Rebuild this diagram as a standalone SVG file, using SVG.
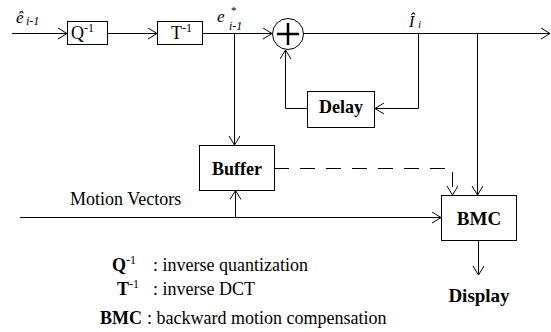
<svg xmlns="http://www.w3.org/2000/svg" width="551" height="332" viewBox="0 0 551 332">
<style>
.box{fill:#fff;stroke:#000;stroke-width:1}
.ln{fill:none;stroke:#000;stroke-width:1}
.dash{fill:none;stroke:#000;stroke-width:1;stroke-dasharray:15 11}
text{font-family:"Liberation Serif","Times New Roman",serif;fill:#000}
.b{font-weight:bold;font-size:18px}
.it{font-style:italic}
.reg{font-size:18px}
</style>
<defs>
<marker id="ah" markerUnits="userSpaceOnUse" markerWidth="12" markerHeight="12" refX="9" refY="5.5" orient="auto">
<path d="M0,0 L9,5.5 L0,11" fill="none" stroke="#000" stroke-width="1"/>
</marker>
</defs>
<rect width="551" height="332" fill="#fff"/>
<g id="connectors">
<path class="ln" d="M12,33.5 H67" marker-end="url(#ah)"/>
<path class="ln" d="M107.5,33.5 H157" marker-end="url(#ah)"/>
<path class="ln" d="M202.5,33.5 H272" marker-end="url(#ah)"/>
<path class="ln" d="M234.5,33.5 V145" marker-end="url(#ah)"/>
<path class="ln" d="M303.5,33.5 H550" marker-end="url(#ah)"/>
<path class="ln" d="M418.5,33.5 V108.5 H375" marker-end="url(#ah)"/>
<path class="ln" d="M307,108.5 H285.5 V50" marker-end="url(#ah)"/>
<path class="ln" d="M477.5,33.5 V195" marker-end="url(#ah)"/>
<path class="dash" d="M274,168.5 H452.5 V195" marker-end="url(#ah)"/>
<path class="ln" d="M20,217.5 H441" marker-end="url(#ah)"/>
<path class="ln" d="M235.5,217.5 V190.5" marker-end="url(#ah)"/>
<path class="ln" d="M478.5,240.5 V275" marker-end="url(#ah)"/>
</g>
<g id="input-label">
<text x="16" y="23" class="it" font-size="17">ê</text>
<text x="26" y="25" class="it" font-size="12">i-1</text>
</g>
<g id="q">
<rect class="box" x="67.5" y="21.5" width="40" height="23"/>
<text x="71" y="39" font-size="18">Q<tspan font-size="12" dy="-7">-1</tspan></text>
</g>
<g id="t">
<rect class="box" x="157.5" y="21.5" width="45" height="23"/>
<text x="171" y="39" font-size="18">T<tspan font-size="12" dy="-7">-1</tspan></text>
</g>
<g id="e-label">
<text x="217" y="22" class="it" font-size="17">e</text>
<text x="231" y="14" font-size="11">*</text>
<text x="229" y="30" class="it" font-size="12">i-1</text>
</g>
<g id="sum">
<circle cx="288" cy="34" r="15.5" fill="#fff" stroke="#000" stroke-width="1"/>
<path d="M288,23 V45 M277,34 H299" stroke="#000" stroke-width="2.5" fill="none"/>
</g>
<g id="i-label">
<text x="409" y="27" class="it" font-size="16">Î</text>
<text x="418" y="28" class="it" font-size="11">i</text>
</g>
<g id="delay">
<rect class="box" x="307.5" y="91.5" width="67" height="36"/>
<text x="341" y="113" class="b" text-anchor="middle">Delay</text>
</g>
<g id="buffer">
<rect class="box" x="199.5" y="145.5" width="75" height="45"/>
<text x="237" y="175" class="b" text-anchor="middle">Buffer</text>
</g>
<g id="bmc">
<rect class="box" x="441.5" y="195.5" width="75" height="45"/>
<text x="479" y="225" class="b" text-anchor="middle" style="font-size:19px">BMC</text>
</g>
<g id="motion-label">
<text x="70" y="205" class="reg">Motion Vectors</text>
</g>
<g id="display">
<text x="479" y="302" class="b" text-anchor="middle" style="font-size:19px">Display</text>
</g>
<g id="legend">
<text x="112" y="271" font-size="18" font-weight="bold">Q<tspan font-size="12" dy="-7" font-weight="normal">-1</tspan></text>
<text x="153" y="271" class="reg">: inverse quantization</text>
<text x="117" y="295" font-size="18" font-weight="bold">T<tspan font-size="12" dy="-7" font-weight="normal">-1</tspan></text>
<text x="153" y="295" class="reg">: inverse DCT</text>
<text x="100" y="324" font-size="18" font-weight="bold">BMC</text>
<text x="147" y="324" class="reg">: backward motion compensation</text>
</g>
</svg>
